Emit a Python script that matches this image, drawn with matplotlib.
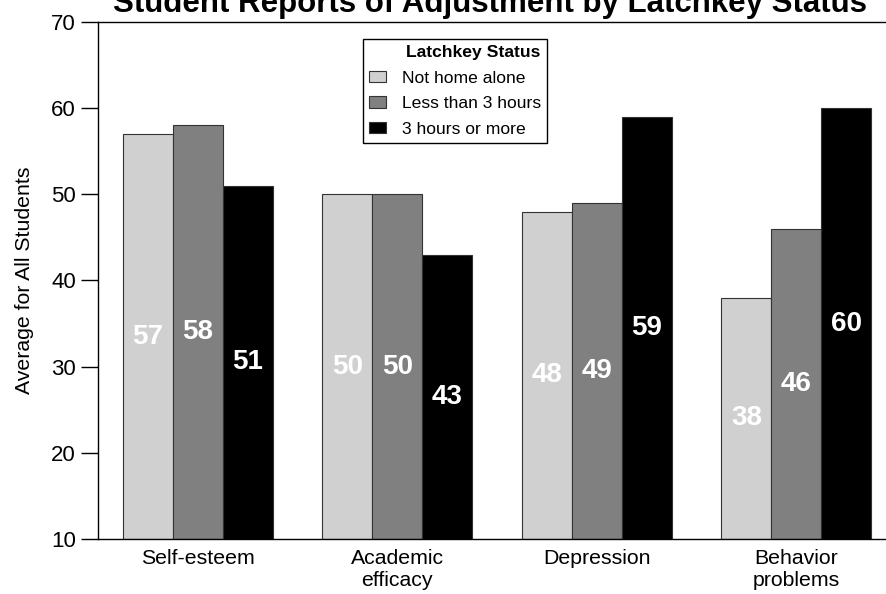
import numpy as np
import matplotlib
matplotlib.use('Agg')
import matplotlib.pyplot as plt

plt.rcParams['font.family'] = ['Liberation Sans', 'DejaVu Sans']

# data
categories = ['Self-esteem', 'Academic\nefficacy', 'Depression', 'Behavior\nproblems']
series_names = ['Not home alone', 'Less than 3 hours', '3 hours or more']
not_home_alone = [57, 50, 48, 38]
less_than_3h = [58, 50, 49, 46]
three_plus = [51, 43, 59, 60]
colors = ['#d0d0d0', '#808080', '#000000']

fig = plt.figure(figsize=(8.86, 5.94), dpi=100)
ax = fig.add_axes([98 / 886, 55 / 594, 798 / 886, 517 / 594])

x = np.arange(len(categories))
width = 0.25
base = 10
for i, (vals, col, name) in enumerate(zip([not_home_alone, less_than_3h, three_plus], colors, series_names)):
    pos = x + (i - 1) * width
    heights = np.array(vals) - base
    ax.bar(pos, heights, width, bottom=base, color=col, edgecolor='#333333',
           linewidth=0.8, label=name)
    for p, v in zip(pos, vals):
        ax.text(p, (v + base) / 2, str(v), ha='center', va='center',
                color='white', fontsize=20, fontweight='bold')

ax.set_xlim(-0.5, 3.5)
ax.set_ylim(10, 70)
ax.set_yticks(range(10, 71, 10))
ax.set_xticks(x)
ax.set_xticklabels(categories, fontsize=15.3)
ax.tick_params(axis='x', length=0, pad=7)
ax.tick_params(axis='y', length=12, width=1, labelsize=16, pad=4)
ax.spines['right'].set_visible(False)
for s in ['left', 'top', 'bottom']:
    ax.spines[s].set_linewidth(1.0)
ax.set_ylabel('Average for All Students', fontsize=15.3, labelpad=12)

fig.text(490 / 886, 1 - 12 / 594, 'Student Reports of Adjustment by Latchkey Status',
         ha='center', va='baseline', fontsize=22.5, fontweight='bold')

leg = ax.legend(loc='upper left', bbox_to_anchor=(363 / 886, 1 - 39 / 594),
                bbox_transform=fig.transFigure, borderaxespad=0,
                title='Latchkey Status', title_fontproperties={'weight': 'bold', 'size': 12.6},
                fontsize=12.6, fancybox=False, framealpha=1, edgecolor='black',
                handlelength=0.95, handleheight=0.65, handletextpad=0.9,
                labelspacing=0.6, borderpad=0.35, alignment='right')
leg.get_frame().set_linewidth(1.0)

fig.savefig('out.png', dpi=100)
